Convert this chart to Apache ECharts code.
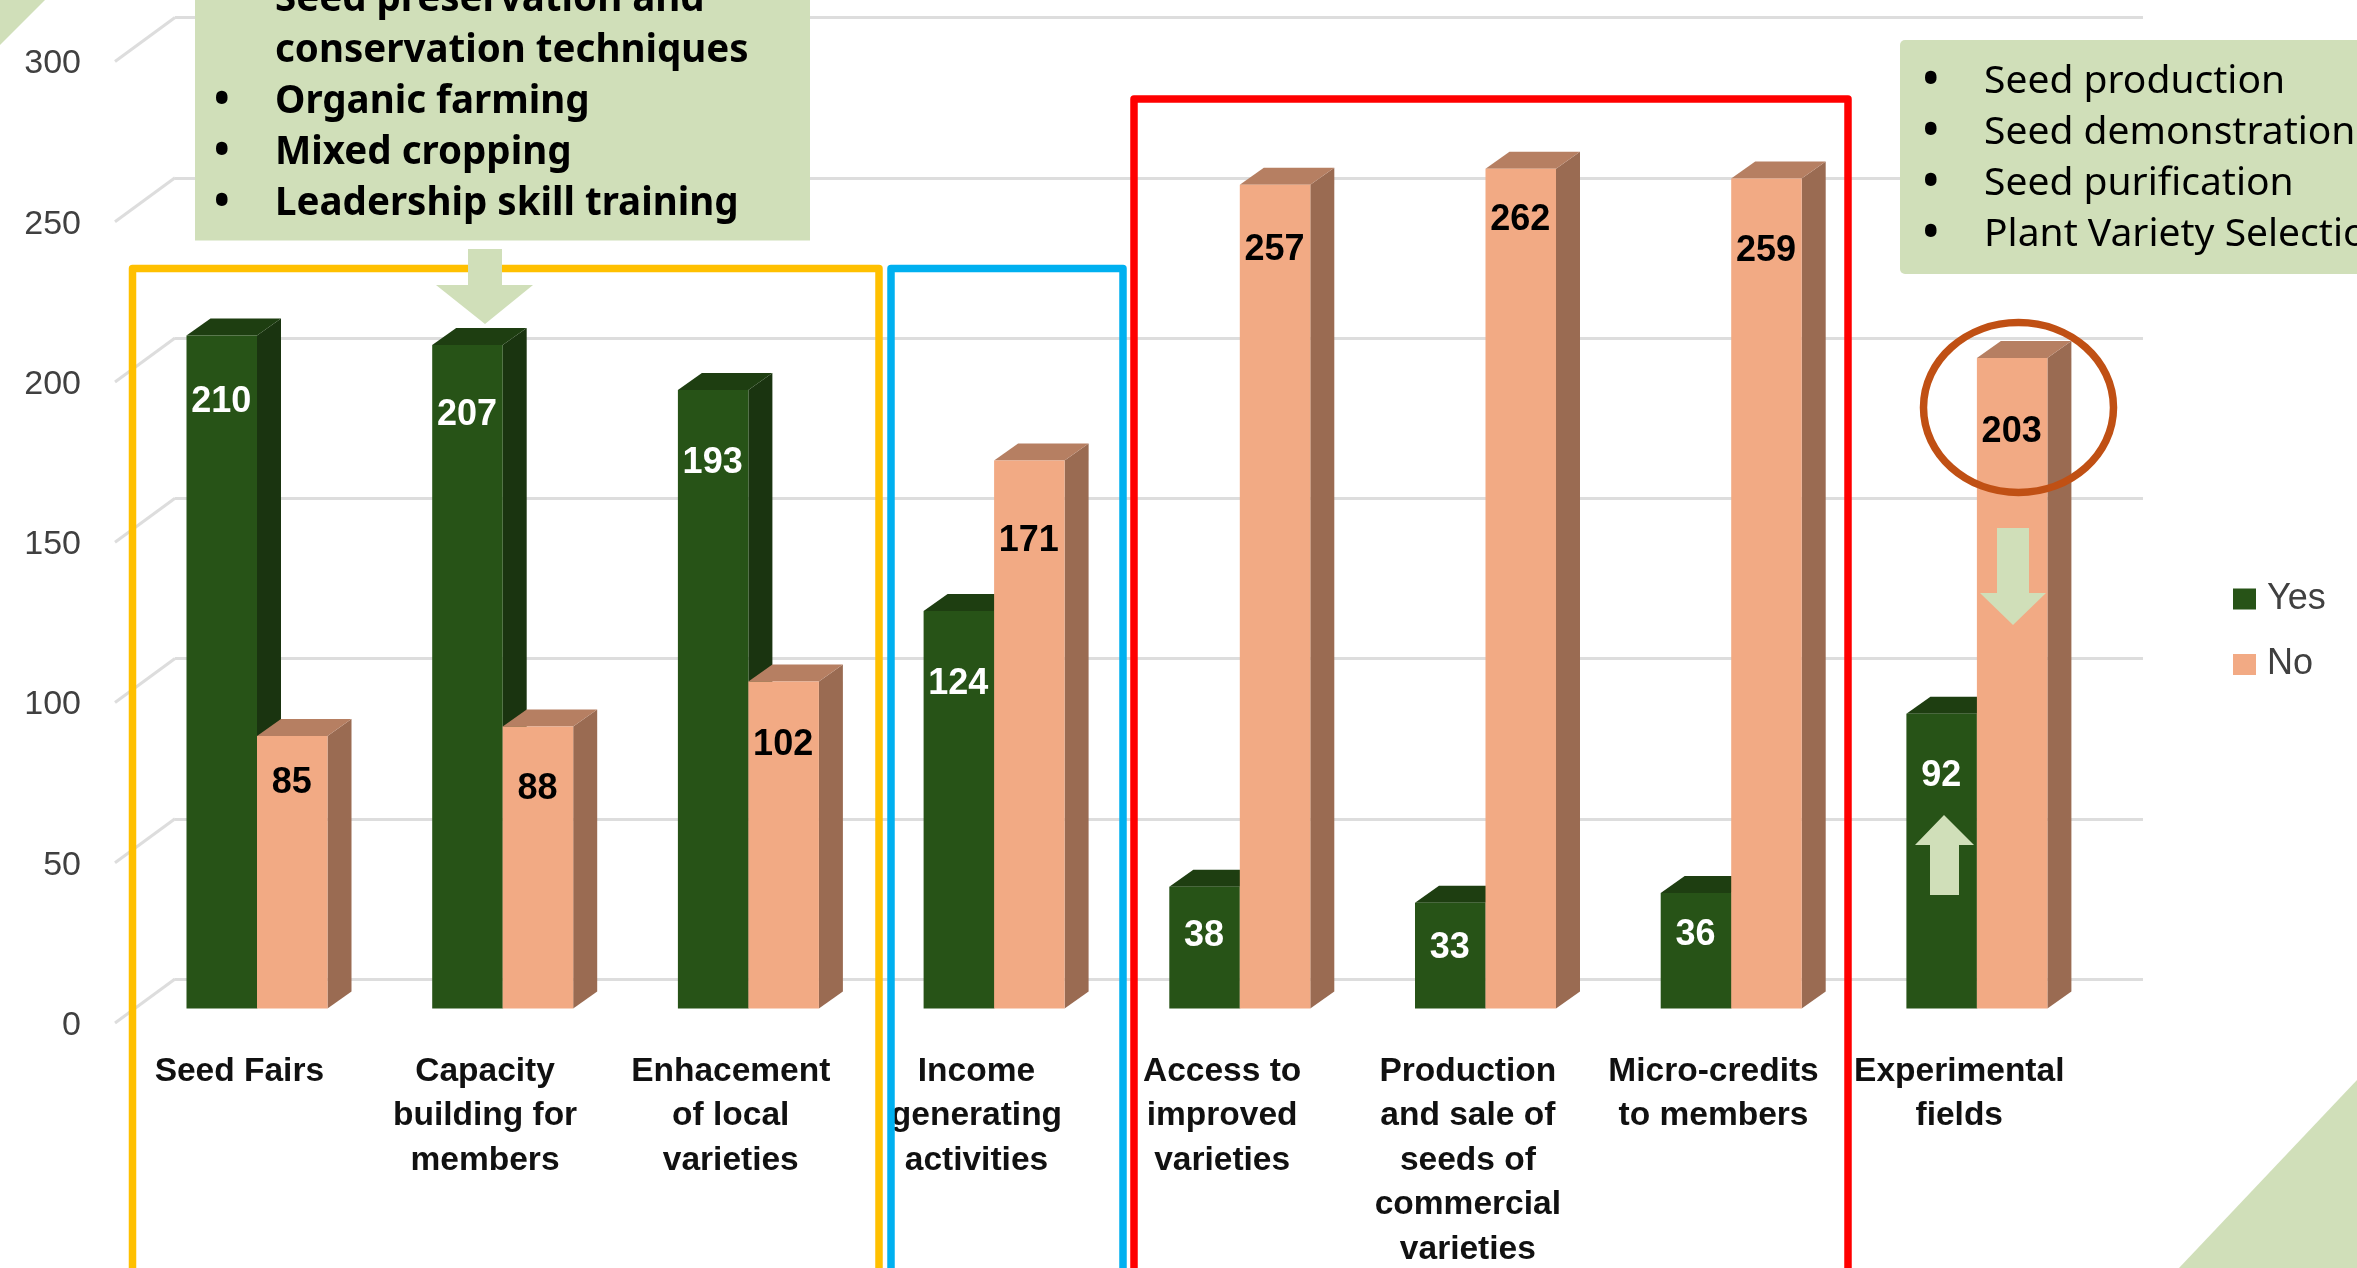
<!DOCTYPE html>
<html>
<head>
<meta charset="utf-8" />
<title>Seed activities chart</title>
<style>
  html, body { margin: 0; padding: 0; background: #fff; }
  #chart { width: 2357px; height: 1268px; }
</style>
<script src="https://cdn.jsdelivr.net/npm/echarts@6/dist/echarts.min.js"></script>
</head>
<body>
<div id="chart"></div>
<script>
const categories = [
  "Seed Fairs",
  "Capacity\nbuilding for\nmembers",
  "Enhacement\nof local\nvarieties",
  "Income\ngenerating\nactivities",
  "Access to\nimproved\nvarieties",
  "Production\nand sale of\nseeds of\ncommercial\nvarieties",
  "Micro-credits\nto members",
  "Experimental\nfields",
];
const yesValues = [210, 207, 193, 124, 38, 33, 36, 92];
const noValues = [85, 88, 102, 171, 257, 262, 259, 203];
const yTicks = [0, 50, 100, 150, 200, 250, 300];
const leftNotes = [
  { bullet: false, text: "Seed preservation and" },
  { bullet: false, text: "conservation techniques" },
  { bullet: true, text: "Organic farming" },
  { bullet: true, text: "Mixed cropping" },
  { bullet: true, text: "Leadership skill training" },
];
const rightNotes = ["Seed production", "Seed demonstration", "Seed purification", "Plant Variety Selection"];

// how far below the top of each bar its value sits in the reference
const yesLabelDrop = [67, 70, 73, 73, 49, 45, 42, 62];
const noLabelDrop = [47, 63, 63, 81, 65, 51, 73, 74];

const LIGHT_GREEN = "#D0DFB9";
const PLOT_H = 961.5;
const BAR_W = 70.5;
const DEPTH_X = 24;
const DEPTH_Y = 17;

function barRenderer(offset, front, top, side, textColor, drops) {
  return function (params, api) {
    const i = api.value(0);
    const v = api.value(1);
    const c = api.coord([i, v]);
    const b = api.coord([i, 0]);
    const x0 = c[0] + offset;
    const x1 = x0 + BAR_W;
    return {
      type: "group",
      children: [
        {
          type: "polygon",
          shape: { points: [[x1, c[1]], [x1 + DEPTH_X, c[1] - DEPTH_Y], [x1 + DEPTH_X, b[1] - DEPTH_Y], [x1, b[1]]] },
          style: { fill: side },
        },
        {
          type: "polygon",
          shape: { points: [[x0, c[1]], [x0 + DEPTH_X, c[1] - DEPTH_Y], [x1 + DEPTH_X, c[1] - DEPTH_Y], [x1, c[1]]] },
          style: { fill: top },
        },
        {
          type: "rect",
          shape: { x: x0, y: c[1], width: BAR_W, height: b[1] - c[1] },
          style: { fill: front },
        },
        {
          type: "text",
          style: {
            x: x0 + BAR_W / 2 - 0.5,
            y: c[1] + drops[i],
            text: String(v),
            fill: textColor,
            font: 'bold 36px "Liberation Sans"',
            textAlign: "center",
            textVerticalAlign: "middle",
          },
        },
      ],
    };
  };
}

function wallDiagonal(params, api) {
  const p = api.coord([0, api.value(1)]);
  return {
    type: "line",
    shape: { x1: p[0], y1: p[1], x2: p[0] - 60, y2: p[1] + 44 },
    style: { stroke: "#DDDDDD", lineWidth: 3 },
  };
}

function frame(x, top, right, color) {
  return {
    type: "polyline",
    z: 20,
    shape: { points: [[x, 1300], [x, top], [right, top], [right, 1300]] },
    style: { stroke: color, lineWidth: 7.5, fill: null, lineJoin: "round" },
  };
}

function solid(points) {
  return { type: "polygon", z: 30, shape: { points: points }, style: { fill: LIGHT_GREEN } };
}

function noteText(x, y, text, font) {
  return {
    type: "text",
    z: 40,
    x: x,
    y: y,
    style: { text: text, fill: "#000", font: font, textVerticalAlign: "middle" },
  };
}

function buildGraphics() {
  const out = [
    solid([[0, 0], [45, 0], [0, 45]]),
    solid([[2179, 1268], [2357, 1080], [2357, 1268]]),
    frame(132.5, 268.5, 879, "#FFC000"),
    frame(891, 268.5, 1123, "#00B0F0"),
    frame(1134, 99, 1848, "#FF0000"),
    { type: "rect", z: 30, shape: { x: 195, y: -5, width: 615, height: 245.5 }, style: { fill: LIGHT_GREEN } },
    { type: "rect", z: 30, shape: { x: 1900, y: 40, width: 470, height: 234, r: 5 }, style: { fill: LIGHT_GREEN } },
    solid([[468, 249], [502, 249], [502, 285], [533, 285], [485, 324], [436, 285], [468, 285]]),
    solid([[1997, 528], [2029, 528], [2029, 593], [2046, 593], [2013, 625], [1980, 593], [1997, 593]]),
    solid([[1944, 815], [1974, 845], [1959, 845], [1959, 895], [1930, 895], [1930, 845], [1915, 845]]),
    {
      type: "ellipse",
      z: 35,
      shape: { cx: 2018.5, cy: 407.5, rx: 95, ry: 85 },
      style: { stroke: "#C05014", lineWidth: 7.5, fill: null },
    },
  ];
  const boldFont = 'bold 38.5px "Noto Sans"';
  const plainFont = '39px "Noto Sans"';
  const bulletFont = '52px "Noto Sans"';
  leftNotes.forEach((n, i) => {
    const y = i * 51;
    if (n.bullet) out.push(noteText(212, y, "•", bulletFont));
    out.push(noteText(275, y, n.text, boldFont));
  });
  rightNotes.forEach((t, i) => {
    const y = 82 + i * 51;
    out.push(noteText(1921, y, "•", bulletFont));
    out.push(noteText(1984, y, t, plainFont));
  });
  return out;
}

const yMax = yTicks[yTicks.length - 1];
const yStep = yTicks[1] - yTicks[0];
const bandWidth = 245.7;
const nCat = categories.length;

function toPairs(arr) {
  return arr.map((v, i) => [i, v]);
}

const chart = echarts.init(document.getElementById("chart"), null, { renderer: "canvas" });
chart.setOption({
  animation: false,
  backgroundColor: "#fff",
  textStyle: { fontFamily: "Liberation Sans" },
  legend: {
    data: ["Yes", "No"],
    orient: "vertical",
    left: 2233,
    top: 581,
    padding: 0,
    itemWidth: 23,
    itemHeight: 21,
    itemGap: 29.5,
    icon: "rect",
    selectedMode: false,
    textStyle: { fontSize: 36, color: "#404040", fontFamily: "Liberation Sans", padding: [0, 0, 0, 6] },
  },
  grid: [
    // bars, front plane
    { left: 134.15, top: 47, width: bandWidth * nCat, height: PLOT_H, outerBoundsMode: "none" },
    // back wall with the gridlines
    { left: 175, top: 17.5, width: 1968, height: PLOT_H, outerBoundsMode: "none" },
    // front edge: tick labels and category labels
    { left: 116.5, top: 64, width: bandWidth * nCat, height: PLOT_H, outerBoundsMode: "none" },
  ],
  xAxis: [
    { gridIndex: 0, type: "category", data: categories, show: false },
    { gridIndex: 1, type: "value", min: 0, max: 1, show: false },
    {
      gridIndex: 2,
      type: "category",
      data: categories,
      axisLine: { show: false },
      axisTick: { show: false },
      axisLabel: {
        interval: 0,
        margin: 24,
        fontSize: 33.5,
        fontWeight: "bold",
        lineHeight: 44.4,
        color: "#111",
        fontFamily: "Liberation Sans",
        verticalAlign: "top",
      },
    },
  ],
  yAxis: [
    { gridIndex: 0, type: "value", min: 0, max: yMax, interval: yStep, show: false },
    {
      gridIndex: 1,
      type: "value",
      min: 0,
      max: yMax,
      interval: yStep,
      axisLine: { show: false },
      axisTick: { show: false },
      axisLabel: { show: false },
      splitLine: { lineStyle: { color: "#DDDDDD", width: 3 } },
    },
    {
      gridIndex: 2,
      type: "value",
      min: 0,
      max: yMax,
      interval: yStep,
      axisLine: { show: false },
      axisTick: { show: false },
      splitLine: { show: false },
      axisLabel: { margin: 35.5, fontSize: 34, color: "#404040", fontFamily: "Liberation Sans" },
    },
  ],
  series: [
    {
      type: "custom",
      xAxisIndex: 1,
      yAxisIndex: 1,
      silent: true,
      z: 1,
      renderItem: wallDiagonal,
      data: yTicks.map((v) => [0, v]),
    },
    {
      name: "Yes",
      type: "custom",
      xAxisIndex: 0,
      yAxisIndex: 0,
      z: 5,
      itemStyle: { color: "#275317" },
      renderItem: barRenderer(-BAR_W, "#275317", "#1E3E11", "#1A3410", "#fff", yesLabelDrop),
      data: toPairs(yesValues),
    },
    {
      name: "No",
      type: "custom",
      xAxisIndex: 0,
      yAxisIndex: 0,
      z: 6,
      itemStyle: { color: "#F2AA84" },
      renderItem: barRenderer(0, "#F2AA84", "#B67F62", "#9A6B52", "#000", noLabelDrop),
      data: toPairs(noValues),
    },
  ],
  graphic: { elements: buildGraphics() },
});
</script>
</body>
</html>
